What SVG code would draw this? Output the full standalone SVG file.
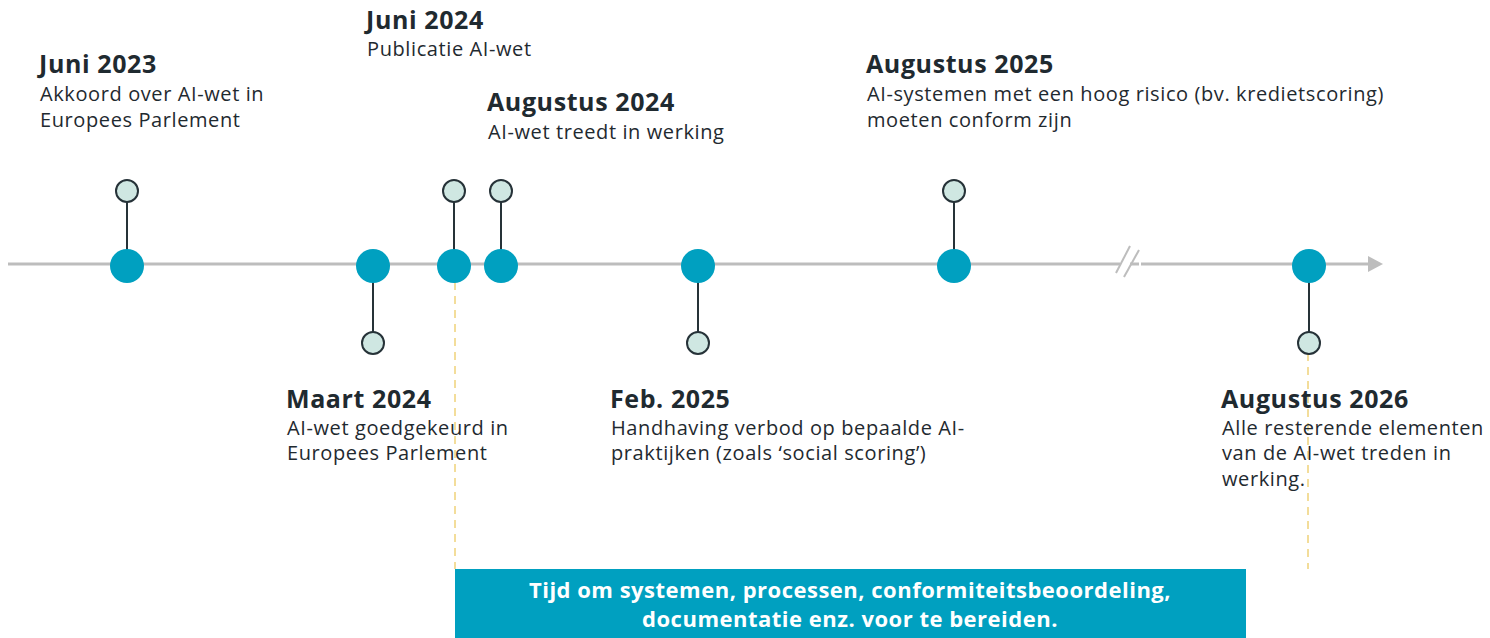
<svg xmlns="http://www.w3.org/2000/svg" width="1490" height="638" viewBox="0 0 1490 638">
<style>
.t{font-family:"Open Sans","Liberation Sans",Arial,sans-serif;font-weight:bold;font-size:25px;letter-spacing:0.6px;fill:#1f2a30}
.d{font-family:"Open Sans","Liberation Sans",Arial,sans-serif;font-size:20px;letter-spacing:0.6px;fill:#1f2a30}
.big{fill:#00a0c0}
.small{fill:#cfe7e2;stroke:#263238;stroke-width:2}
.stem{stroke:#263238;stroke-width:2}
.guide{stroke:#f0d27a;stroke-width:1.5;stroke-dasharray:8 6}
.bt{font-family:"Open Sans","Liberation Sans",Arial,sans-serif;font-weight:bold;font-size:22px;letter-spacing:0.5px;fill:#fff}
</style>
<g id="connectors">
<line x1="8" y1="264" x2="1370" y2="264" stroke="#bdbdbd" stroke-width="3"/>
<path d="M1368,256 L1383,264 L1368,272 z" fill="#bdbdbd"/>
<rect x="1115" y="250" width="26" height="26" fill="#fff"/>
<line x1="1116" y1="273" x2="1130" y2="246" stroke="#bdbdbd" stroke-width="2"/>
<line x1="1124" y1="277" x2="1139" y2="250" stroke="#bdbdbd" stroke-width="2"/>
<line x1="1130" y1="264" x2="1139" y2="264" stroke="#bdbdbd" stroke-width="3"/>
<line x1="1115" y1="264" x2="1120" y2="264" stroke="#bdbdbd" stroke-width="3"/>
<line class="guide" x1="455" y1="282" x2="455" y2="569"/>
<line class="guide" x1="1308" y1="353" x2="1308" y2="569"/>
</g>
<g id="n-juni2023">
<line class="stem" x1="127" y1="201" x2="127" y2="264"/>
<circle class="big" cx="127" cy="266" r="17"/>
<circle class="small" cx="127" cy="191" r="11"/>
<text class="t" x="39" y="73">Juni 2023</text>
<text class="d" x="40" y="101">Akkoord over AI-wet in</text>
<text class="d" x="40" y="127">Europees Parlement</text>
</g>
<g id="n-maart2024">
<line class="stem" x1="373" y1="266" x2="373" y2="332"/>
<circle class="big" cx="373" cy="266" r="17"/>
<circle class="small" cx="373" cy="343" r="11"/>
<text class="t" x="286" y="408">Maart 2024</text>
<text class="d" x="287" y="435">AI-wet goedgekeurd in</text>
<text class="d" x="287" y="460">Europees Parlement</text>
</g>
<g id="n-juni2024">
<line class="stem" x1="454" y1="201" x2="454" y2="264"/>
<circle class="big" cx="454" cy="266" r="17"/>
<circle class="small" cx="454" cy="191" r="11"/>
<text class="t" x="366" y="29">Juni 2024</text>
<text class="d" x="367" y="56">Publicatie AI-wet</text>
</g>
<g id="n-aug2024">
<line class="stem" x1="501" y1="201" x2="501" y2="264"/>
<circle class="big" cx="501" cy="266" r="17"/>
<circle class="small" cx="501" cy="191" r="11"/>
<text class="t" x="487" y="111">Augustus 2024</text>
<text class="d" x="488" y="139">AI-wet treedt in werking</text>
</g>
<g id="n-feb2025">
<line class="stem" x1="698" y1="266" x2="698" y2="332"/>
<circle class="big" cx="698" cy="266" r="17"/>
<circle class="small" cx="698" cy="343" r="11"/>
<text class="t" x="610" y="408">Feb. 2025</text>
<text class="d" x="611" y="435">Handhaving verbod op bepaalde AI-</text>
<text class="d" x="611" y="460">praktijken (zoals ‘social scoring’)</text>
</g>
<g id="n-aug2025">
<line class="stem" x1="954" y1="201" x2="954" y2="264"/>
<circle class="big" cx="954" cy="266" r="17"/>
<circle class="small" cx="954" cy="191" r="11"/>
<text class="t" x="866" y="73">Augustus 2025</text>
<text class="d" x="867" y="101">AI-systemen met een hoog risico (bv. kredietscoring)</text>
<text class="d" x="867" y="127">moeten conform zijn</text>
</g>
<g id="n-aug2026">
<line class="stem" x1="1309" y1="266" x2="1309" y2="332"/>
<circle class="big" cx="1309" cy="266" r="17"/>
<circle class="small" cx="1309" cy="343" r="11"/>
<text class="t" x="1221" y="408">Augustus 2026</text>
<text class="d" x="1222" y="435">Alle resterende elementen</text>
<text class="d" x="1222" y="460">van de AI-wet treden in</text>
<text class="d" x="1222" y="486">werking.</text>
</g>
<g id="n-banner">
<rect x="455" y="569" width="791" height="69" fill="#00a0c0"/>
<text class="bt" x="850" y="598" text-anchor="middle">Tijd om systemen, processen, conformiteitsbeoordeling,</text>
<text class="bt" x="850" y="627" text-anchor="middle">documentatie enz. voor te bereiden.</text>
</g>
</svg>
